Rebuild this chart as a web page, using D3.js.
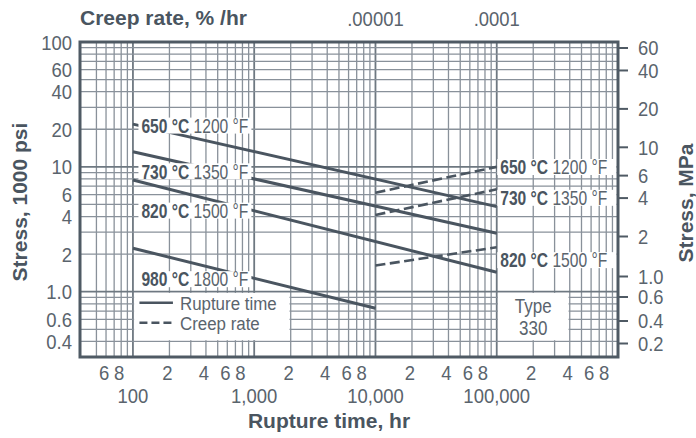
<!DOCTYPE html>
<html><head><meta charset="utf-8">
<script src="https://cdn.jsdelivr.net/npm/d3@7"></script>
<style>
body{margin:0;background:#fff}
svg{display:block}
.nar{font-family:"Liberation Sans",Arial,sans-serif}
.bld{font-family:"Liberation Sans",Arial,sans-serif;font-weight:bold}
</style></head><body><svg id="c" width="696" height="438"></svg>
<script>
// ---------- data ----------
const tempC = ["650 °C", "730 °C", "820 °C", "980 °C"];
const tempF = ["1200 °F", "1350 °F", "1500 °F", "1800 °F"];
const ruptureHours = [[100, 100000], [100, 100000], [100, 100000], [100, 10000]];
const ruptureStress = [[22.0, 4.80], [13.2, 2.94], [7.85, 1.43], [2.23, 0.737]];
const creepRate = [[0.00001, 0.0001], [0.00001, 0.0001], [0.00001, 0.0001]];
const creepStress = [[6.21, 10.0], [4.12, 6.61], [1.62, 2.27]];
const xMinorTicks = [60, 80, 200, 400, 600, 800, 2000, 4000, 6000, 8000, 20000, 40000, 60000, 80000, 200000, 400000, 600000, 800000];
const xMinorLabels = ["6", "8", "2", "4", "6", "8", "2", "4", "6", "8", "2", "4", "6", "8", "2", "4", "6", "8"];
const xMajorTicks = [100, 1000, 10000, 100000];
const xMajorLabels = ["100", "1,000", "10,000", "100,000"];
const topTicks = [0.00001, 0.0001];
const topLabels = [".00001", ".0001"];
const leftTicks = [100, 60, 40, 20, 10, 6, 4, 2, 1, 0.6, 0.4];
const leftLabels = ["100", "60", "40", "20", "10", "6", "4", "2", "1.0", "0.6", "0.4"];
const rightTicks = [60, 40, 20, 10, 6, 4, 2, 1, 0.6, 0.4, 0.2];
const rightLabels = ["60", "40", "20", "10", "6", "4", "2", "1.0", "0.6", "0.4", "0.2"];
const leftLabelStress = [21.4, 9.21, 4.46, 1.26];
const rightLabelStress = [9.97, 5.65, 1.79];
const legendItems = ["Rupture time", "Creep rate"];
const typeText = ["Type", "330"];

// ---------- layout ----------
const L = 80, R = 618, T = 42, B = 357;
const dark = "#4a5560", mid = "#5a646d", gridC = "#89919a";
const x = d3.scaleLog().domain([36.6, 1e6]).range([L, R]);
const xTop = d3.scaleLog().domain([36.6e-9, 1e-3]).range([L, R]);
const y = d3.scaleLog().domain([0.3, 100]).range([B, T]);
const yR = d3.scaleLog().domain([60, 2, 1, 0.6, 0.4, 0.2]).range([48, 236.5, 276.5, 297, 321, 343.5]);

const svg = d3.select("#c");
const isDecade = v => Math.abs(Math.log10(v) - Math.round(Math.log10(v))) < 1e-6;

// condensed text helper (horizontal squeeze of Liberation Sans)
function ntext(g, px, py, size, sx, anchor) {
  return g.append("text").attr("class", "nar").attr("font-size", size)
    .attr("transform", `translate(${px},${py}) scale(${sx},1)`)
    .attr("text-anchor", anchor || "start");
}

// grid
const grid = svg.append("g");
x.ticks().filter(t => t >= 49 && t < 0.99e6).forEach(t => {
  grid.append("line").attr("x1", x(t)).attr("x2", x(t)).attr("y1", T).attr("y2", B)
    .attr("stroke", isDecade(t) ? "#6e7881" : gridC).attr("stroke-width", isDecade(t) ? 1.8 : 1.3);
});
y.ticks().filter(t => t > 0.301 && t < 99).forEach(t => {
  grid.append("line").attr("x1", L).attr("x2", R).attr("y1", y(t)).attr("y2", y(t))
    .attr("stroke", isDecade(t) ? "#6e7881" : gridC).attr("stroke-width", isDecade(t) ? 1.8 : 1.3);
});

// line generators
const lineR = d3.line().x(d => x(d[0])).y(d => y(d[1]));
const lineC = d3.line().x(d => xTop(d[0])).y(d => y(d[1]));
ruptureHours.forEach((hs, i) => {
  svg.append("path").attr("d", lineR(hs.map((h, j) => [h, ruptureStress[i][j]])))
    .attr("fill", "none").attr("stroke", dark).attr("stroke-width", 3);
});
creepRate.forEach((cs, i) => {
  svg.append("path").attr("d", lineC(cs.map((c, j) => [c, creepStress[i][j]])))
    .attr("fill", "none").attr("stroke", dark).attr("stroke-width", 2.6).attr("stroke-dasharray", "10,4.5");
});

// white boxes in grid cells
function cellBox(x0, x1, y0, y1) {
  svg.append("rect").attr("x", x(x0) + 1.2).attr("y", y(y1) + 1.2)
    .attr("width", x(x1) - x(x0) - 2.4).attr("height", y(y0) - y(y1) - 2.4).attr("fill", "#fff");
}
cellBox(100, 2000, 0.4, 1);
cellBox(100000, 400000, 0.4, 1);

// temperature labels
function tempLabel(px, py, c, f, rightEdge) {
  const g = svg.append("g");
  const rect = g.append("rect").attr("fill", "#fff");
  const sx = 0.78;
  const t = ntext(g, px, py, 20, sx).attr("dy", "0.36em");
  t.append("tspan").attr("font-weight", "bold").attr("fill", dark).text(c);
  t.append("tspan").attr("fill", mid).text(" " + f);
  const bb = t.node().getBBox();
  const x0 = px + bb.x * sx - 3;
  const x1 = rightEdge != null ? rightEdge : px + (bb.x + bb.width) * sx + 3;
  rect.attr("x", x0).attr("y", py - 8).attr("width", x1 - x0).attr("height", 16);
}
leftLabelStress.forEach((s, i) => tempLabel(x(100) + 8.5, y(s), tempC[i], tempF[i], null));
rightLabelStress.forEach((s, i) => tempLabel(x(100000) + 3.5, y(s), tempC[i], tempF[i], R - 1.5));

// legend
const lg = svg.append("g");
legendItems.forEach((name, i) => {
  const ly = y(1) + 11 + i * 20;
  lg.append("line").attr("x1", x(100) + 6.5).attr("x2", x(100) + 40).attr("y1", ly).attr("y2", ly)
    .attr("stroke", dark).attr("stroke-width", 2.6).attr("stroke-dasharray", i ? "8,4" : null);
  ntext(lg, x(100) + 47, ly, 19, 0.89).attr("fill", mid).attr("dy", "0.36em").text(name);
});
// type box text
typeText.forEach((s, i) => {
  ntext(svg, (x(100000) + x(400000)) / 2, (y(1) + y(0.4)) / 2 - 11 + i * 22, 20, 0.85, "middle")
    .attr("fill", mid).attr("dy", "0.36em").text(s);
});

// frame
svg.append("rect").attr("x", L).attr("y", T).attr("width", R - L).attr("height", B - T)
  .attr("fill", "none").attr("stroke", "#4f5a64").attr("stroke-width", 3);

// right ticks
rightTicks.forEach((v, i) => {
  svg.append("line").attr("x1", R).attr("x2", R + 10).attr("y1", yR(v)).attr("y2", yR(v))
    .attr("stroke", "#4f5a64").attr("stroke-width", 2);
  ntext(svg, R + 20, yR(v), 20, 0.92).attr("fill", mid).attr("dy", "0.36em").text(rightLabels[i]);
});
// left tick labels
leftTicks.forEach((v, i) => {
  ntext(svg, L - 8, y(v), 21, 0.88, "end").attr("fill", mid).attr("dy", "0.36em").text(leftLabels[i]);
});
// bottom labels
xMinorTicks.forEach((v, i) => {
  ntext(svg, x(v) - 2, 380, 21, 0.88, "middle").attr("fill", mid).text(xMinorLabels[i]);
});
xMajorTicks.forEach((v, i) => {
  ntext(svg, x(v), 403, 21, 0.88, "middle").attr("fill", mid).text(xMajorLabels[i]);
});
// top labels
topTicks.forEach((v, i) => {
  ntext(svg, xTop(v), 26, 21, 0.88, "middle").attr("fill", mid).text(topLabels[i]);
});

// titles
svg.append("text").attr("class", "bld").attr("font-size", 21).attr("fill", dark)
  .attr("x", L).attr("y", 25).text("Creep rate, % /hr");
svg.append("text").attr("class", "bld").attr("font-size", 21).attr("fill", dark).attr("text-anchor", "middle")
  .attr("x", 329).attr("y", 428).text("Rupture time, hr");
svg.append("text").attr("class", "bld").attr("font-size", 21).attr("fill", dark).attr("text-anchor", "middle")
  .attr("transform", "translate(27,202) rotate(-90)").text("Stress, 1000 psi");
svg.append("text").attr("class", "bld").attr("font-size", 21).attr("fill", dark).attr("text-anchor", "middle")
  .attr("transform", "translate(693,203) rotate(-90)").text("Stress, MPa");
</script></body></html>
